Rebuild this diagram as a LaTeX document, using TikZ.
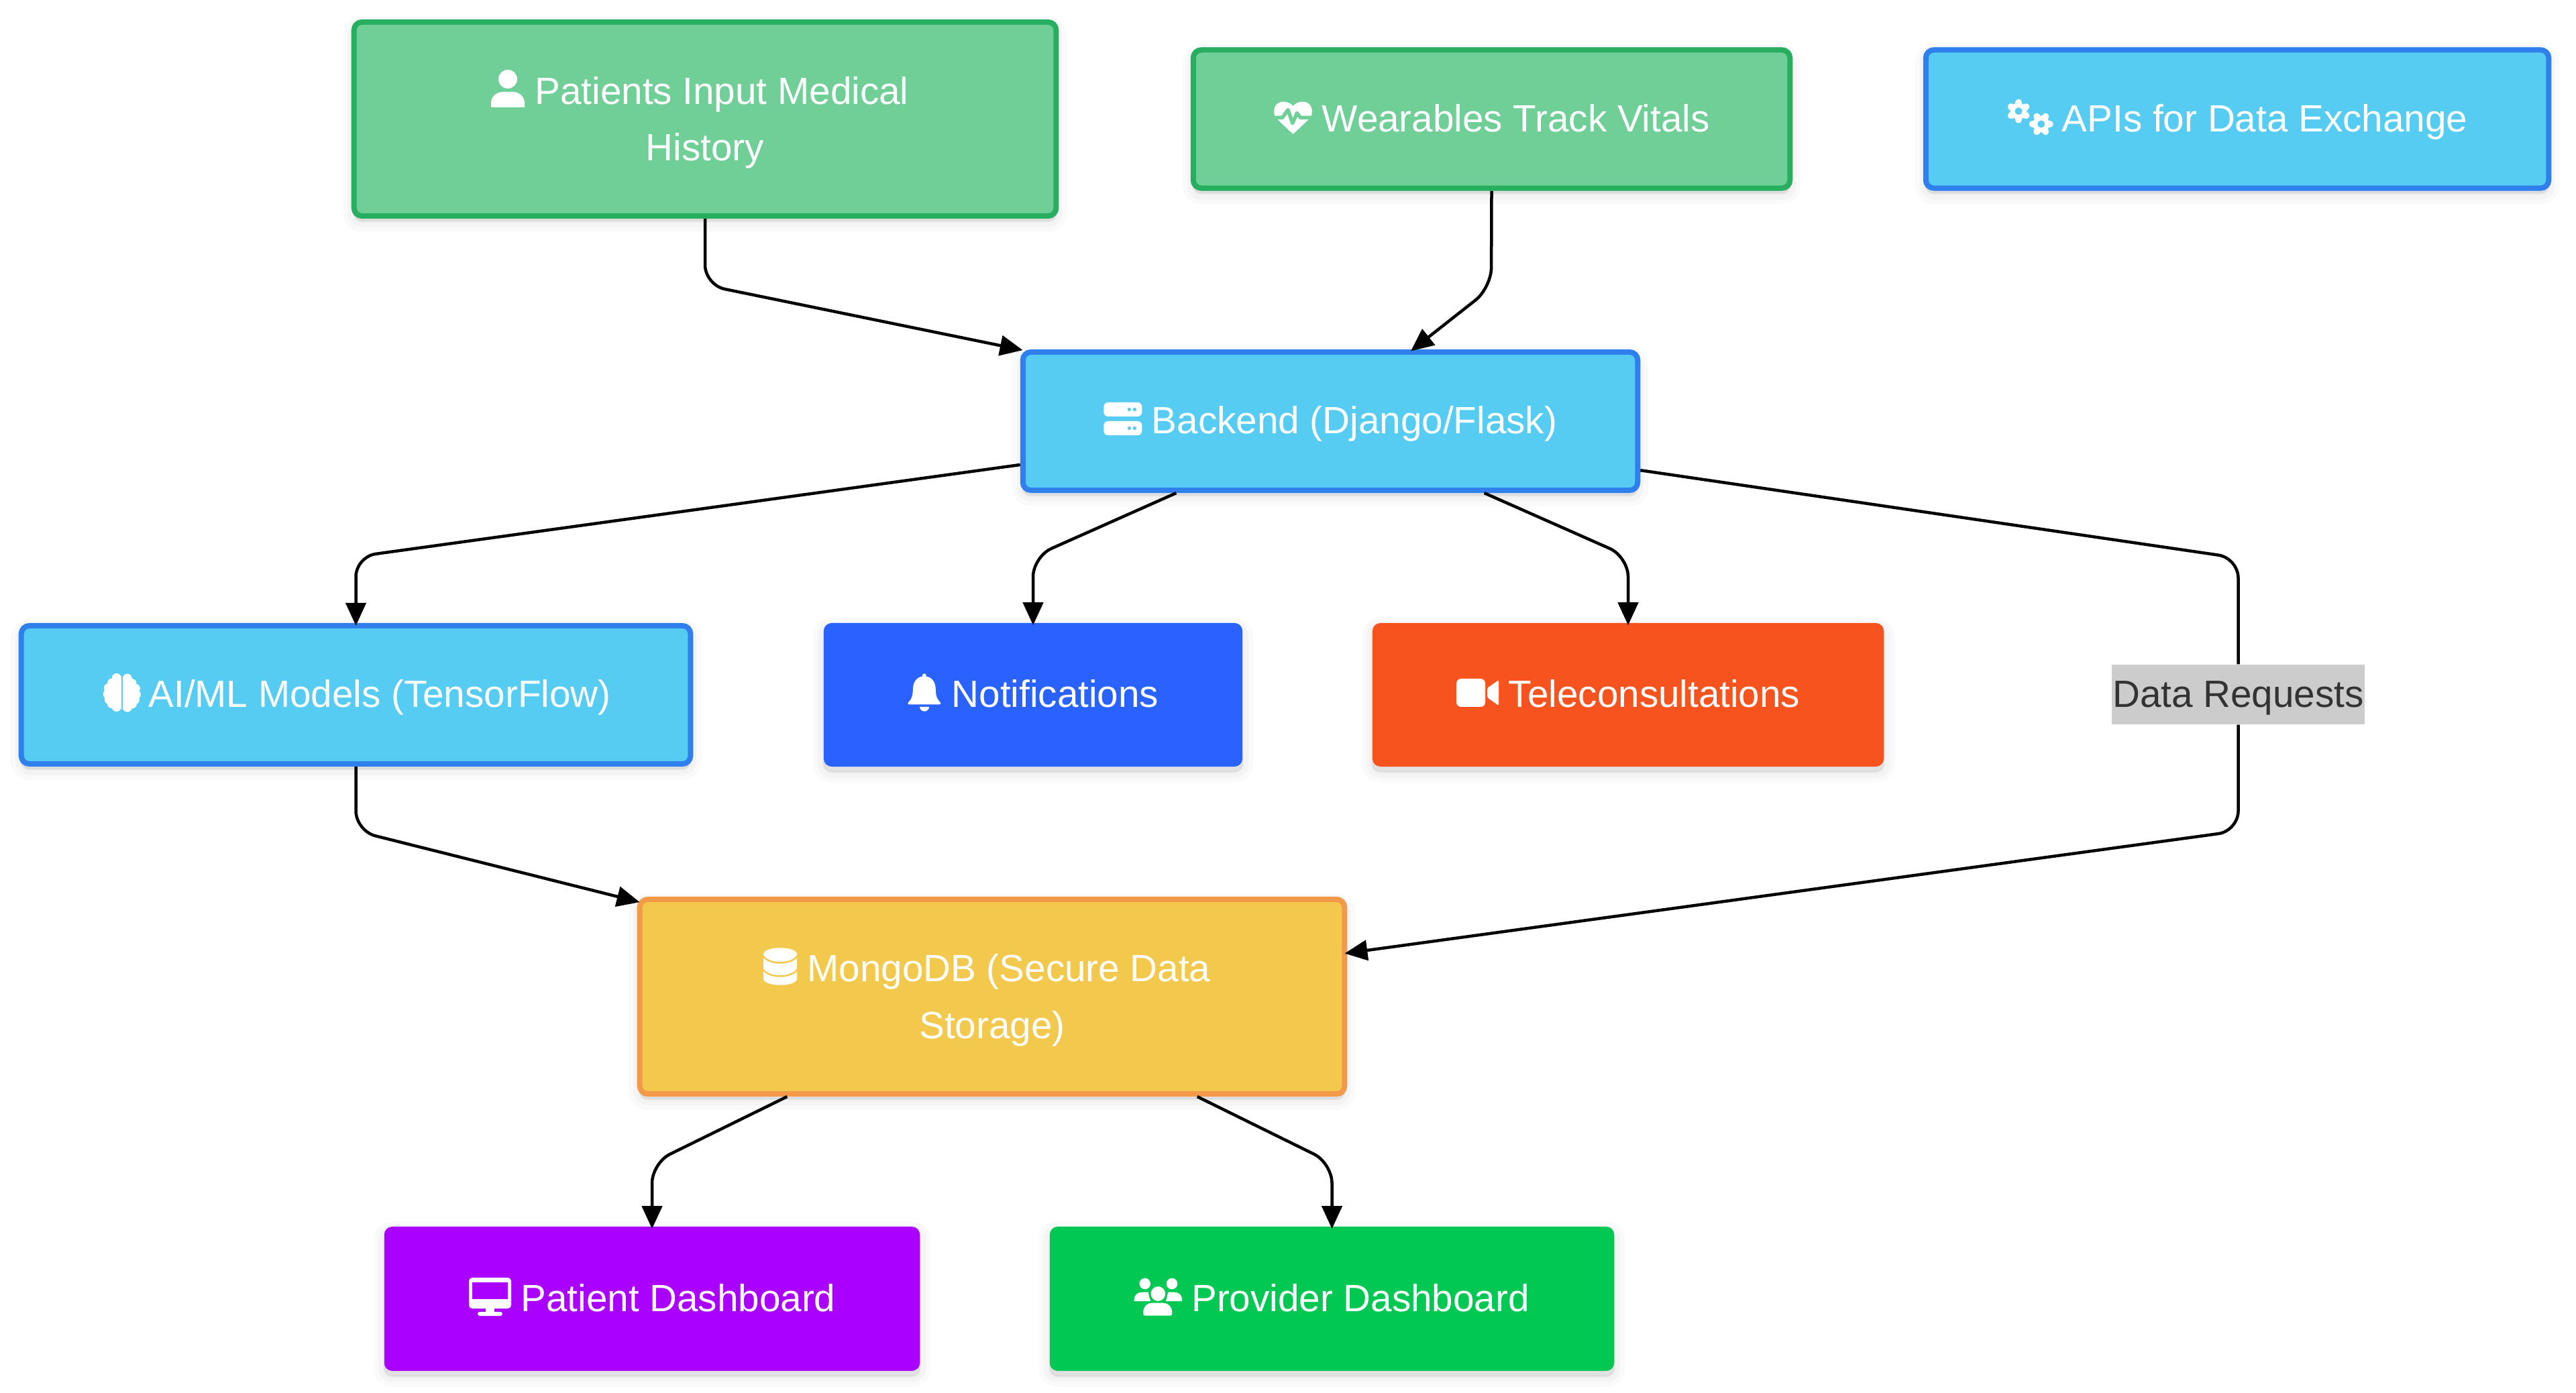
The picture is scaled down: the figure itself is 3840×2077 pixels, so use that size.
\documentclass[tikz,border=0pt]{standalone}
\usepackage{fontspec}
\setmainfont{Liberation Sans}
\usetikzlibrary{arrows.meta,shadows}
\definecolor{greenfill}{HTML}{6FCF97}
\definecolor{greenedge}{HTML}{27AE60}
\definecolor{bluefill}{HTML}{56CCF2}
\definecolor{blueedge}{HTML}{2F80ED}
\definecolor{goldfill}{HTML}{F2C94C}
\definecolor{goldedge}{HTML}{F2994A}
\definecolor{bellfill}{HTML}{2962FF}
\definecolor{videofill}{HTML}{F7531E}
\definecolor{screenfill}{HTML}{AA00FF}
\definecolor{usersfill}{HTML}{00C853}
\newcommand{\linestrut}{\rule[-7.2pt]{0pt}{25.2pt}}
\newcommand{\topstrut}{\rule{0pt}{18.6pt}}
\tikzset{
	softshadow/.style={
		general shadow={shadow xshift=0cm,shadow yshift=-.08cm,fill=black,draw=black,opacity=.02,line width=.32cm},
		general shadow={shadow xshift=0cm,shadow yshift=-.08cm,fill=black,draw=black,opacity=.025,line width=.18cm},
		general shadow={shadow xshift=0cm,shadow yshift=-.08cm,fill=black,draw=black,opacity=.03,line width=.04cm}},
	flowbox/.style={rectangle,rounded corners=.12cm,softshadow,text=white,align=center,inner sep=0pt,
		font=\fontsize{16.1}{24}\selectfont,execute at begin node=\linestrut,execute at end node=\linestrut},
	inbox/.style={flowbox,draw=greenedge,fill=greenfill,line width=.08cm},
	svcbox/.style={flowbox,draw=blueedge,fill=bluefill,line width=.08cm},
	storebox/.style={flowbox,draw=goldedge,fill=goldfill,line width=.08cm},
	flatbox/.style={flowbox,fill=#1},
	linktext/.style={fill=black!20,text=black!80,inner sep=0pt,minimum width=3.77cm,minimum height=.85cm,
		font=\fontsize{16.1}{24}\selectfont,execute at begin node=\linestrut},
	link/.style={draw=black,line width=.045cm,rounded corners=.3cm},
	linkto/.style={link,-{Triangle[length=.34cm,width=.3cm]},shorten >=-.04cm},
	pics/usericon/.style={code={
		\fill[white] (25,14) circle[radius=14];
		\fill[white] (0,56) -- (0,50) .. controls (0,40) and (8,33) .. (18,33) -- (32,33) .. controls (42,33) and (50,40) .. (50,50) -- (50,56) -- cycle;
	}},
	pics/hearticon/.style={code={
		\fill[white] (28.5,7) .. controls (22,0) and (12,-1) .. (6,3) .. controls (0,7) and (-2,17) .. (3,25) -- (28.5,49) -- (54,25) .. controls (59,17) and (57,7) .. (51,3) .. controls (45,-1) and (35,0) .. (28.5,7) -- cycle;
		\draw[greenfill,line width=.055cm,line join=round] (-2,24.3) -- (12.7,24.3) -- (21,12.7) -- (27.7,32.7) -- (34.3,17.7) -- (39.3,24.3) -- (59,24.3);
	}},
	pics/gearicon/.style={code={
		\fill[white] (0,0) circle[radius=12.5];
		\foreach \a in {0,60,...,300} \draw[white,line width=.1cm,line cap=round] (0,0) -- (\a+#1:13);
		\fill[bluefill] (0,0) circle[radius=5.5];
	}},
	pics/servericon/.style={code={
		\foreach \y in {0,28} {
			\fill[white,rounded corners=.065cm] (0,\y) rectangle (57,\y+21);
			\fill[bluefill] (38,\y+10.5) circle[radius=2.7];
			\fill[bluefill] (46,\y+10.5) circle[radius=2.7];
		}
	}},
	pics/brainhalf/.style={code={
		\fill[white] (14,4) rectangle (27,53);
		\fill[white] (8,20) rectangle (20,45);
		\fill[white] (20,7) circle[radius=7];
		\fill[white] (13,14) circle[radius=6.5];
		\fill[white] (8,22) circle[radius=7];
		\fill[white] (7,31) circle[radius=7];
		\fill[white] (9,39) circle[radius=7];
		\fill[white] (13,45) circle[radius=7];
		\fill[white] (20,50) circle[radius=7];
	}},
	pics/bellicon/.style={code={
		\fill[white] (24.5,3) circle[radius=3];
		\fill[white] (24.5,4) .. controls (13,4) and (7.5,13) .. (7.5,24) .. controls (7.5,35) and (4,40) .. (.5,43) .. controls (-.5,45) and (0,46) .. (2,46) -- (47,46) .. controls (49,46) and (49.5,45) .. (48.5,43) .. controls (45,40) and (41.5,35) .. (41.5,24) .. controls (41.5,13) and (36,4) .. (24.5,4) -- cycle;
		\fill[white] (17.7,49.7) -- (31.7,49.7) .. controls (31.7,54) and (28,56.3) .. (24.7,56.3) .. controls (21.4,56.3) and (17.7,54) .. (17.7,49.7) -- cycle;
	}},
	pics/videoicon/.style={code={
		\fill[white,rounded corners=.07cm] (0,0) rectangle (43,42);
		\fill[white,rounded corners=.02cm] (46,14) -- (63,2) -- (63,40) -- (46,28) -- cycle;
	}},
	pics/dbicon/.style={code={
		\fill[white] (0,10) .. controls (0,-3) and (50,-3) .. (50,10) -- (50,46) .. controls (50,59) and (0,59) .. (0,46) -- cycle;
		\foreach \y in {12,32} \draw[goldfill,line width=.025cm] (-1,\y) .. controls (8,\y+14) and (42,\y+14) .. (51,\y);
	}},
	pics/desktopicon/.style={code={
		\fill[white,rounded corners=.05cm] (0,0) rectangle (63,46);
		\fill[screenfill] (5,7) rectangle (58,32);
		\fill[white] (25,46) rectangle (38,53);
		\fill[white,rounded corners=.03cm] (13,51) rectangle (50,57);
	}},
	pics/usersicon/.style={code={
		\fill[white] (16.7,10) circle[radius=8.3];
		\fill[white] (57,10) circle[radius=8.3];
		\fill[white] (.7,36) -- (.7,33) .. controls (.7,27) and (6,22.7) .. (12,22.7) -- (22,22.7) -- (25,36) -- cycle;
		\fill[white] (72,36) -- (72,33) .. controls (72,27) and (67,22.7) .. (61,22.7) -- (51,22.7) -- (48,36) -- cycle;
		\filldraw[white,draw=usersfill,line width=.03cm] (36.3,25) circle[radius=12.5];
		\fill[white] (16,57.7) -- (14.3,56) -- (14.3,52) .. controls (14.3,44) and (20,38.7) .. (27,38.7) -- (44,38.7) .. controls (51,38.7) and (57,44) .. (57,52) -- (57,56) -- (55,57.7) -- cycle;
	}}
}
\begin{document}
\begin{tikzpicture}[x=.01cm,y=-.01cm]
	\useasboundingbox (0,0) rectangle (3840,2077);
	% input row
	\node[inbox,minimum width=10.46cm,minimum height=2.89cm] (patients) at (1051,177.5) {\topstrut\hspace{.5cm}Patients Input Medical\\History};
	\node[inbox,minimum width=8.89cm,minimum height=2.06cm] (wearables) at (2223.5,177.5) {\hspace{.72cm}Wearables Track Vitals};
	\node[svcbox,minimum width=9.28cm,minimum height=2.06cm] (apis) at (3335,177.5) {\hspace{.82cm}APIs for Data Exchange};
	% backend and services
	\node[svcbox,minimum width=9.16cm,minimum height=2.06cm] (backend) at (1983,628) {\hspace{.72cm}Backend (Django/Flask)};
	\node[svcbox,minimum width=9.97cm,minimum height=2.06cm] (aimodels) at (530.5,1036) {\hspace{.71cm}AI/ML Models (TensorFlow)};
	\node[flatbox=bellfill,minimum width=6.24cm,minimum height=2.14cm] (notify) at (1540,1036) {\hspace{.66cm}Notifications};
	\node[flatbox=videofill,minimum width=7.62cm,minimum height=2.14cm] (teleconsult) at (2427,1036) {\hspace{.78cm}Teleconsultations};
	\node[linktext] (datareq) at (3336.5,1035.5) {Data Requests};
	% storage and dashboards
	\node[storebox,minimum width=10.5cm,minimum height=2.9cm] (mongodb) at (1479,1486) {\topstrut\hspace{.5cm}MongoDB (Secure Data\\Storage)};
	\node[flatbox=screenfill,minimum width=7.98cm,minimum height=2.15cm] (patientdash) at (972,1936.5) {\hspace{.78cm}Patient Dashboard};
	\node[flatbox=usersfill,minimum width=8.41cm,minimum height=2.15cm] (providerdash) at (1985.5,1936.5) {\hspace{.85cm}Provider Dashboard};
	% icons
	\pic at (732,104) {usericon};
	\pic at (1899,151) {hearticon};
	\pic at (3009,165.7) {gearicon=30};
	\pic at (3042.7,185) {gearicon=0};
	\pic at (1645.3,600) {servericon};
	\pic at (153.7,1004) {brainhalf};
	\begin{scope}[xshift=2.097cm,yshift=-10.04cm,xscale=-1]
		\pic[transform shape] at (0,0) {brainhalf};
	\end{scope}
	\pic at (1353.3,1004.3) {bellicon};
	\pic at (2171,1012) {videoicon};
	\pic at (1138,1413) {dbicon};
	\pic at (699,1905) {desktopicon};
	\pic at (1690,1904) {usersicon};
	% bends
	\coordinate (bendpat) at (1051,425);
	\coordinate (bendwear) at (2223,429);
	\coordinate (bendai) at (530.5,830);
	\coordinate (bendnote) at (1540,830);
	\coordinate (bendtele) at (2427,830);
	\coordinate (bendreq) at (3336.5,832);
	\coordinate (bendreqb) at (3336.5,1239);
	\coordinate (bendstore) at (530.5,1239);
	\coordinate (bendpd) at (972,1734);
	\coordinate (bendrd) at (1985.5,1734);
	% connectors
	\draw[linkto] (patients.south) -- (bendpat) -- (backend.167.5);
	\draw[linkto] (wearables.south) -- (bendwear) -- (backend.41);
	\draw[linkto] (backend.188) -- (bendai) -- (aimodels.north);
	\draw[linkto] (backend.205) -- (bendnote) -- (notify.north);
	\draw[linkto] (backend.335) -- (bendtele) -- (teleconsult.north);
	\draw[link] (backend.351) -- (bendreq) -- (datareq.north);
	\draw[linkto] (datareq.south) -- (bendreqb) -- (mongodb.7.4);
	\draw[linkto] (aimodels.south) -- (bendstore) -- (mongodb.165.8);
	\draw[linkto] (mongodb.206) -- (bendpd) -- (patientdash.north);
	\draw[linkto] (mongodb.334) -- (bendrd) -- (providerdash.north);
\end{tikzpicture}
\end{document}
